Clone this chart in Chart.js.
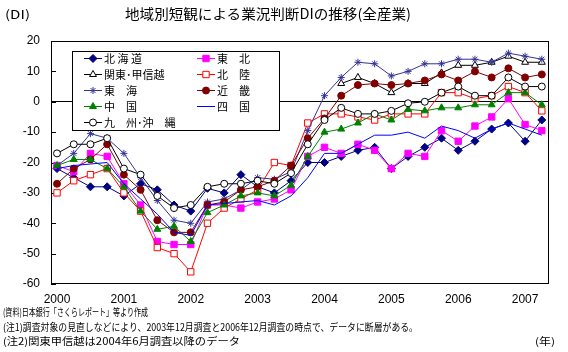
<!DOCTYPE html>
<html>
<head>
<meta charset="utf-8">
<script src="https://cdn.jsdelivr.net/npm/chart.js@4.4.1/dist/chart.umd.min.js"></script>
<style>
  body { margin: 0; background: #fff; }
  #wrap { position: relative; width: 568px; height: 352px; overflow: hidden; font-family: "Noto Sans CJK JP", sans-serif; color: #000; }
  canvas { position: absolute; left: 0; top: 0; }
  .t { position: absolute; white-space: nowrap; transform-origin: 0 0; line-height: 1; }
</style>
</head>
<body>
<div id="wrap">
  <canvas id="chart" width="568" height="352"></canvas>
  <div class="t" data-w="25" style="left:5px;top:8px;font-size:12px">(DI)</div>
  <div class="t" data-w="286" style="left:125px;top:6px;font-size:14px">地域別短観による業況判断DIの推移(全産業)</div>
  <div class="t" data-w="145" style="left:3px;top:307px;font-size:10px">(資料)日本銀行「さくらレポート」等より作成</div>
  <div class="t" data-w="415" style="left:3px;top:322px;font-size:10px">(注1)調査対象の見直しなどにより、2003年12月調査と2006年12月調査の時点で、データに断層がある。</div>
  <div class="t" data-w="237" style="left:3px;top:336px;font-size:10px">(注2)関東甲信越は2004年6月調査以降のデータ</div>
  <div class="t" data-w="20" style="left:535px;top:336px;font-size:10px">(年)</div>
</div>
<script>
// year labels, one per 4 quarterly surveys (Mar, Jun, Sep, Dec)
const years = ['2000', '2001', '2002', '2003', '2004', '2005', '2006', '2007'];

// 業況判断DI, 2000年3月調査 - 2007年6月調査
const hokkaido = [-22, -25, -28, -28, -31, -27, -29, -34, -36, -28.5, -30, -24, -28, -30, -26, -20, -20, -18, -16, -15, -22, -18, -15, -12, -16, -13, -9, -7, -13, -6];
const tohoku   = [-21, -23, -17, -18, -27, -34, -46, -47, -47, -34, -34, -35, -33, -32, -29, -18, -15, -17, -14, -16, -22, -17, -18, -9.5, -13, -8, -5, 1, -7.5, -9.5];
const kanto    = [null, null, null, null, null, null, null, null, null, null, null, null, null, null, null, null, null, 6, 8, 6, 3, 6, 6, 9.5, 12, 12, 13, 15, 13, 13];
const hokuriku = [-30, -26, -24, -22, -30, -36, -48, -50, -56, -40, -35, -32, -29, -20, -21, -7, -4, -4, -5, -6, -4, -4, -4, 3, 3, 1, 2, 5, 3, -3];
const tokai    = [-21, -17, -10.5, -12, -17, -25, -32.5, -39, -40, -33, -32, -29, -25, -25.5, -23, -9.5, 2, 8, 13, 12.5, 8.5, 10, 12.5, 12.5, 14, 14, 13, 16, 15, 14];
const kinki    = [-27, -22, -19, -14, -24, -29, -39, -43, -43, -34, -33, -29, -28, -26, -21, -12, -5.5, 2, 5.5, 6, 5.5, 6, 7, 9, 7, 10, 8, 11, 8, 9];
const chugoku  = [-21, -19, -19, -22, -28, -36, -42, -41, -46, -36.5, -34, -31, -30, -31, -27.5, -18, -10, -9, -7, -4, -6, -2.5, -3, -2, -2, -1, -1, 3, 3, -1];
const shikoku  = [-22, -21, -20.5, -20, -27, -32, -37, -43, -44, -34, -33.5, -33, -32.5, -34, -31, -25, -17, -17, -14, -11, -11, -10, -12, -8, -9.5, -12, -9, -7, -9, -11];
const kyushu   = [-17, -14, -14, -12, -22, -24, -31, -35, -34, -28, -27, -27, -26, -27, -23.5, -14, -6, -2, -4, -4, -3, -0.5, 0, 3, 5, 2, 2, 8, 5, 5];

const yTicks = [-60, -50, -40, -30, -20, -10, 0, 10, 20];
const legendNames = ['北 海 道', '東　北', '関東･甲信越', '北　陸', '東　海', '近　畿', '中　国', '四　国', '九　州･沖　縄'];

const toPoints = arr => arr.map((v, i) => ({ x: i, y: v }));

function series(label, values, color, style, radius, fill) {
  return {
    label: label,
    data: toPoints(values),
    borderColor: color,
    backgroundColor: fill,
    borderWidth: 1,
    pointStyle: style,
    pointRadius: radius,
    pointHoverRadius: radius,
    pointBorderColor: color,
    pointBackgroundColor: fill,
    pointBorderWidth: 1,
    tension: 0,
    spanGaps: false
  };
}

const datasets = [
  series('北海道', hokkaido, '#000080', 'rectRot', 4, '#000080'),
  series('東北', tohoku, '#FF00FF', 'rect', 4.5, '#FF00FF'),
  series('関東甲信越', kanto, '#000000', 'triangle', 4, '#FFFFFF'),
  series('北陸', hokuriku, '#FF0000', 'rect', 4.5, '#FFFFFF'),
  series('東海', tokai, '#333399', 'star', 3.5, '#333399'),
  series('近畿', kinki, '#800000', 'circle', 3.5, '#800000'),
  series('中国', chugoku, '#008000', 'triangle', 4, '#008000'),
  series('四国', shikoku, '#0000FF', 'circle', 0, '#0000FF'),
  series('九州・沖縄', kyushu, '#000000', 'circle', 3.5, '#FFFFFF')
];
// Excel draws the first series at the bottom
datasets.forEach((d, i) => { d.order = datasets.length - i; });

// frame, inner ticks and the boxed legend
const decor = {
  id: 'decor',
  beforeDatasetsDraw(chart) {
    const { ctx, chartArea: a, scales } = chart;
    ctx.save();
    ctx.strokeStyle = '#000';
    ctx.lineWidth = 1;
    ctx.strokeRect(Math.round(a.left) + 0.5, Math.round(a.top) + 0.5, Math.round(a.width) - 1, Math.round(a.height) - 1);
    ctx.beginPath();
    yTicks.forEach(v => {
      const py = Math.round(scales.y.getPixelForValue(v)) + 0.5;
      ctx.moveTo(a.left, py);
      ctx.lineTo(a.left + 5, py);
    });
    ctx.stroke();
    ctx.restore();
  },
  afterDatasetsDraw(chart) {
    const ctx = chart.ctx;
    const box = { x: 72, y: 51, w: 207, h: 79 };
    ctx.save();
    ctx.fillStyle = '#fff';
    ctx.fillRect(box.x, box.y, box.w, box.h);
    ctx.strokeStyle = '#000';
    ctx.lineWidth = 1;
    ctx.strokeRect(box.x + 0.5, box.y + 0.5, box.w, box.h);
    ctx.font = '11px "Noto Sans CJK JP"';
    ctx.textBaseline = 'middle';
    datasets.forEach((d, i) => {
      const col = i % 2;
      const row = Math.floor(i / 2);
      const lx = col === 0 ? 84 : 197;
      const ly = Math.round(58 + row * 16) + 0.5;
      ctx.strokeStyle = d.borderColor;
      ctx.beginPath();
      ctx.moveTo(lx, ly);
      ctx.lineTo(lx + 18, ly);
      ctx.stroke();
      if (d.pointRadius > 0) {
        ctx.fillStyle = d.pointBackgroundColor;
        ctx.strokeStyle = d.pointBorderColor;
        ctx.lineWidth = 1;
        Chart.helpers.drawPoint(ctx, { pointStyle: d.pointStyle, radius: d.pointRadius, rotation: 0, borderWidth: 1 }, lx + 9, ly);
      }
      ctx.fillStyle = '#000';
      ctx.fillText(legendNames[i], lx + 20, ly);
    });
    ctx.restore();
  }
};

new Chart(document.getElementById('chart'), {
  type: 'line',
  data: { datasets: datasets },
  options: {
    responsive: false,
    animation: false,
    devicePixelRatio: 1,
    layout: { padding: { top: 41, right: 19, left: 0, bottom: 0 } },
    plugins: { legend: { display: false }, tooltip: { enabled: false }, title: { display: false } },
    scales: {
      x: {
        type: 'linear',
        min: -0.36,
        max: 29.43,
        afterFit: s => { s.height = 68; },
        afterBuildTicks: s => { s.ticks = years.map((y, k) => ({ value: k * 4 })); },
        grid: { display: false, drawTicks: false },
        border: { display: false },
        ticks: {
          padding: 8,
          maxRotation: 0,
          autoSkip: false,
          color: '#000',
          font: { family: '"Liberation Sans", Arial', size: 12 },
          callback: v => years[v / 4]
        }
      },
      y: {
        min: -60,
        max: 20,
        afterFit: s => { s.width = 51; },
        afterBuildTicks: s => { s.ticks = yTicks.map(v => ({ value: v })); },
        grid: {
          drawTicks: false,
          color: c => (c.tick && c.tick.value === 0 ? '#000' : 'rgba(0,0,0,0)'),
          lineWidth: 1
        },
        border: { display: false },
        ticks: {
          padding: 11,
          color: '#000',
          font: { family: '"Liberation Sans", Arial', size: 12 }
        }
      }
    }
  },
  plugins: [decor]
});

// squeeze the text blocks to the widths they have in the original
document.querySelectorAll('.t[data-w]').forEach(el => {
  const w = el.getBoundingClientRect().width;
  el.style.transform = 'scaleX(' + (el.dataset.w / w) + ')';
});
</script>
</body>
</html>
